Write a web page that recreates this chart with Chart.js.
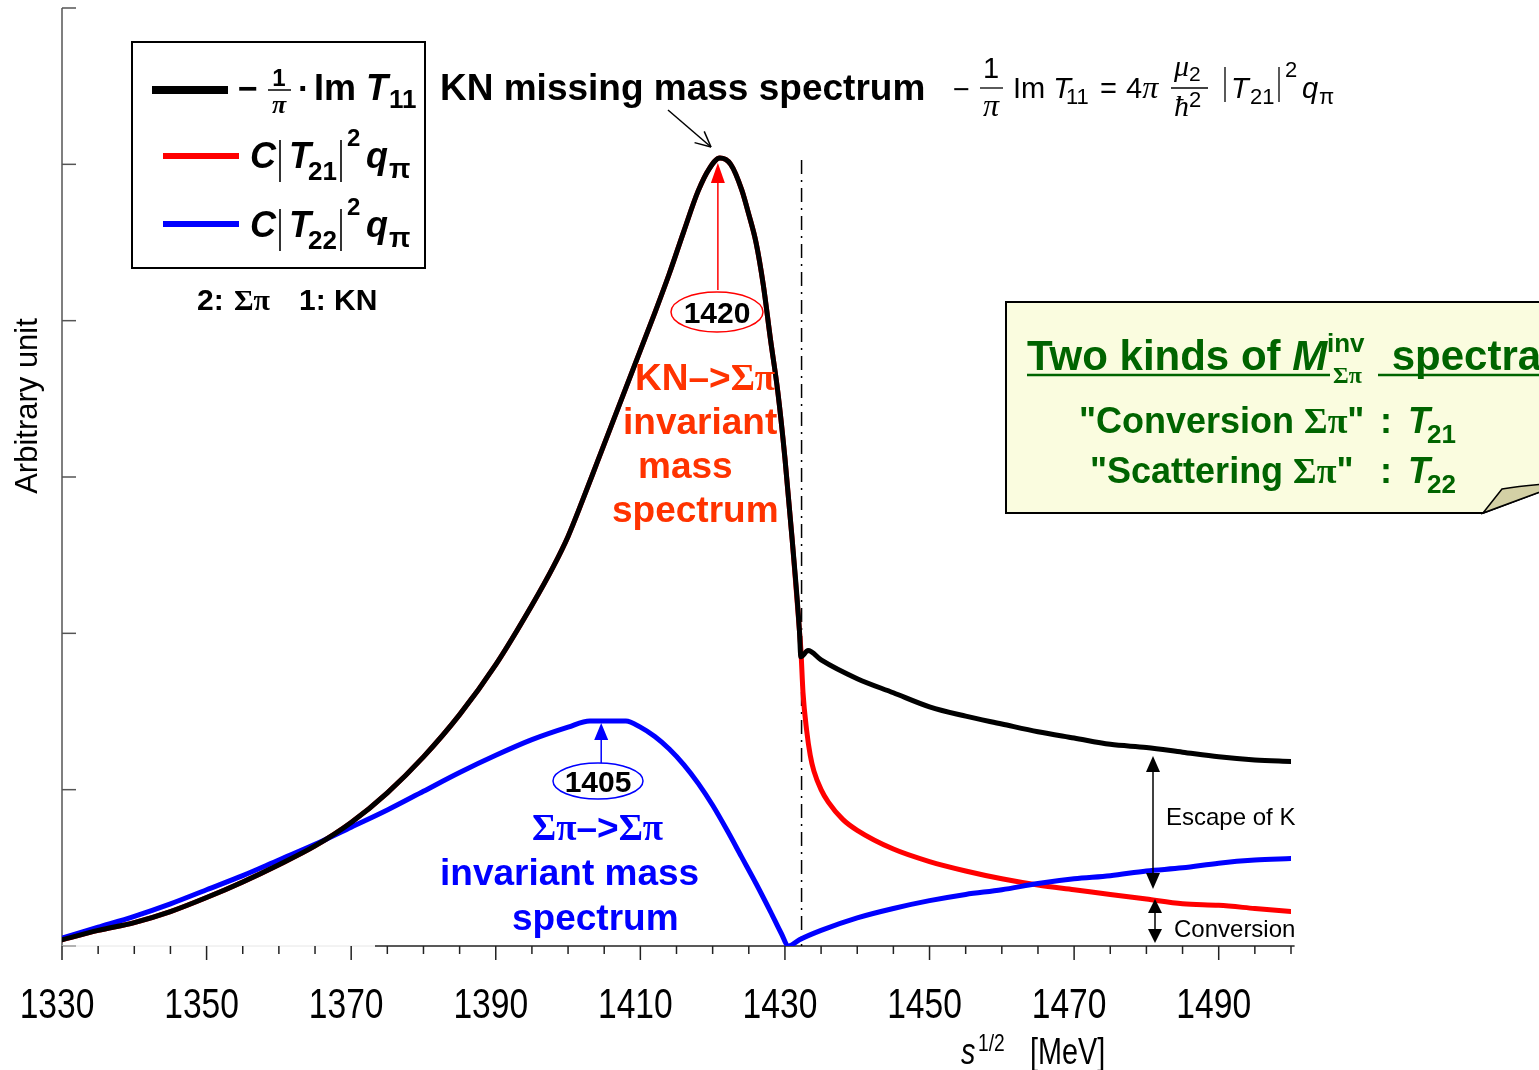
<!DOCTYPE html>
<html>
<head>
<meta charset="utf-8">
<script src="https://cdn.jsdelivr.net/npm/chart.js@4.4.1/dist/chart.umd.min.js"></script>
<style>
  html, body { margin: 0; padding: 0; background: #fff; overflow: hidden; }
  canvas { display: block; }
</style>
</head>
<body>
<canvas id="chart" width="1539" height="1070"></canvas>
<script>
// -1/pi Im T11  (KN missing mass)
const blackE = [1330, 1335, 1340, 1345, 1350, 1355, 1360, 1365, 1370, 1375, 1380, 1385, 1390, 1395,
  1398, 1400, 1402, 1404, 1406, 1408, 1410, 1412, 1414, 1416, 1418, 1419.5, 1421, 1422.5, 1424, 1425,
  1426, 1427, 1428, 1429, 1430, 1431, 1432, 1432.2, 1433.2, 1435, 1440, 1445, 1450, 1455,
  1460, 1465, 1470, 1475, 1480, 1485, 1490, 1495, 1500];
const blackV = [0.04, 0.10, 0.15, 0.22, 0.31, 0.41, 0.52, 0.64, 0.79, 0.98, 1.21, 1.48, 1.80, 2.18,
  2.43, 2.62, 2.85, 3.09, 3.33, 3.57, 3.81, 4.05, 4.30, 4.57, 4.83, 4.97, 5.04, 5.00, 4.84, 4.68,
  4.50, 4.23, 3.88, 3.55, 3.12, 2.60, 2.02, 1.85, 1.89, 1.83, 1.71, 1.62, 1.53, 1.47,
  1.42, 1.37, 1.33, 1.29, 1.27, 1.24, 1.21, 1.19, 1.18];

// C|T21|^2 q_pi  (conversion)
const redE = [1330, 1335, 1340, 1345, 1350, 1355, 1360, 1365, 1370, 1375, 1380, 1385, 1390, 1395,
  1398, 1400, 1402, 1404, 1406, 1408, 1410, 1412, 1414, 1416, 1418, 1419.5, 1421, 1422.5, 1424, 1425,
  1426, 1427, 1428, 1429, 1430, 1431, 1432, 1432.2, 1432.5, 1433, 1433.5, 1434, 1435, 1436,
  1438, 1440, 1445, 1450, 1455, 1460, 1465, 1470, 1475, 1480, 1485, 1490, 1495, 1500];
const redV = [0.04, 0.10, 0.15, 0.22, 0.31, 0.41, 0.52, 0.64, 0.79, 0.98, 1.21, 1.48, 1.80, 2.18,
  2.43, 2.62, 2.85, 3.09, 3.33, 3.57, 3.81, 4.05, 4.30, 4.57, 4.83, 4.97, 5.04, 5.00, 4.84, 4.68,
  4.50, 4.23, 3.88, 3.55, 3.12, 2.60, 2.02, 1.90, 1.62, 1.38, 1.22, 1.12, 1.00, 0.92,
  0.81, 0.74, 0.62, 0.54, 0.48, 0.43, 0.39, 0.36, 0.33, 0.30, 0.27, 0.26, 0.24, 0.22];

// C|T22|^2 q_pi  (scattering)
const blueE = [1330, 1335, 1340, 1345, 1350, 1355, 1360, 1365, 1370, 1375, 1380, 1385, 1390, 1395,
  1400, 1403, 1405, 1408, 1410, 1412, 1414, 1416, 1418, 1420, 1422, 1424, 1426, 1428, 1429.5,
  1430.5, 1432, 1435, 1440, 1445, 1450, 1455, 1460, 1465, 1470, 1475, 1480, 1485, 1490, 1495, 1500];
const blueV = [0.05, 0.12, 0.19, 0.27, 0.36, 0.45, 0.55, 0.65, 0.76, 0.87, 0.99, 1.11, 1.22, 1.32,
  1.40, 1.44, 1.44, 1.44, 1.40, 1.34, 1.26, 1.16, 1.04, 0.90, 0.74, 0.57, 0.40, 0.22, 0.08,
  0.00, 0.04, 0.10, 0.18, 0.24, 0.29, 0.33, 0.36, 0.40, 0.43, 0.45, 0.48, 0.50, 0.53, 0.55, 0.56];

const xLabels = [1330, 1350, 1370, 1390, 1410, 1430, 1450, 1470, 1490];
const yTicks = [0, 1, 2, 3, 4, 5, 6];
const threshold = 1432.3;
const peakKN = 1421;   // "1420" marker
const peakPi = 1405;   // "1405" marker

const SANS = "'Liberation Sans', Arial, sans-serif";
const SERIF = "'Liberation Serif', 'Times New Roman', serif";

function pts(xs, ys) { return xs.map((x, i) => ({ x, y: ys[i] })); }

function run(ctx, x, y, parts) {
  for (const p of parts) {
    ctx.font = p.f;
    ctx.fillStyle = p.c || '#000';
    ctx.fillText(p.t, x, y + (p.dy || 0));
    x += ctx.measureText(p.t).width + (p.gap || 0);
  }
  return x;
}
// condensed text: plain sans squeezed horizontally
function narrow(ctx, s, x, y, font, align) {
  ctx.save();
  ctx.translate(x, y);
  ctx.scale(0.8, 1);
  ctx.font = font;
  ctx.textAlign = align || 'left';
  ctx.fillStyle = '#000';
  ctx.fillText(s, 0, 0);
  ctx.restore();
}
function line(ctx, x1, y1, x2, y2, w, c) {
  ctx.beginPath(); ctx.moveTo(x1, y1); ctx.lineTo(x2, y2);
  ctx.lineWidth = w; ctx.strokeStyle = c; ctx.stroke();
}
function head(ctx, tx, ty, dx, dy, len, half, c) {
  const bx = tx - dx * len, by = ty - dy * len;
  ctx.beginPath();
  ctx.moveTo(tx, ty);
  ctx.lineTo(bx - dy * half, by + dx * half);
  ctx.lineTo(bx + dy * half, by - dx * half);
  ctx.closePath();
  ctx.fillStyle = c; ctx.fill();
}
function bar(ctx, x, y1, y2) { line(ctx, x, y1, x, y2, 1.6, '#000'); }

const axesPlugin = {
  id: 'axes',
  beforeDatasetsDraw(chart) {
    const { ctx, scales: { x, y }, chartArea: a } = chart;
    ctx.save();
    // y axis + inward ticks
    line(ctx, a.left, a.top, a.left, a.bottom, 1.5, '#555');
    yTicks.forEach(v => line(ctx, a.left, y.getPixelForValue(v), a.left + 14, y.getPixelForValue(v), 1.5, '#555'));
    // x axis (left part faint)
    line(ctx, a.left, a.bottom, 375, a.bottom, 1, '#e6e6e6');
    line(ctx, 375, a.bottom, x.getPixelForValue(1500.5), a.bottom, 1.5, '#222');
    for (let v = 1330; v <= 1500; v += 5) {
      const px = x.getPixelForValue(v);
      const major = (v - 1330) % 20 === 0;
      line(ctx, px, a.bottom, px, a.bottom + (major ? 14 : 8), 1.5, '#222');
    }
    xLabels.forEach(v => narrow(ctx, String(v), x.getPixelForValue(v) - 5, 1018, '42px ' + SANS, 'center'));
    // threshold dash-dot
    const tx = x.getPixelForValue(threshold);
    ctx.setLineDash([14, 6, 2, 6]);
    line(ctx, tx, 160, tx, a.bottom, 1.5, '#000');
    ctx.setLineDash([]);
    ctx.restore();
  },
  afterDatasetsDraw(chart) {
    const { ctx, scales: { x } } = chart;
    ctx.save();
    ctx.textAlign = 'left';
    ctx.textBaseline = 'alphabetic';

    // axis titles
    ctx.save();
    ctx.translate(27, 406); ctx.rotate(-Math.PI / 2);
    ctx.textAlign = 'center'; ctx.font = '31px ' + SANS; ctx.fillStyle = '#000';
    ctx.fillText('Arbitrary unit', 0, 10);
    ctx.restore();
    narrow(ctx, 's', 961, 1064, 'italic 36px ' + SANS);
    narrow(ctx, '1/2', 978, 1051, '24px ' + SANS);
    narrow(ctx, '[MeV]', 1030, 1064, '36px ' + SANS);

    // legend box
    ctx.fillStyle = '#fff';
    ctx.fillRect(132, 42, 293, 226);
    ctx.lineWidth = 2; ctx.strokeStyle = '#000';
    ctx.strokeRect(132, 42, 293, 226);
    line(ctx, 152, 90, 228, 90, 8, '#000');
    line(ctx, 163, 156, 239, 156, 6, '#ff0000');
    line(ctx, 163, 224, 239, 224, 6, '#0000ff');
    run(ctx, 238, 100, [{ t: '\u2212', f: 'bold 34px ' + SANS }]);
    ctx.textAlign = 'center';
    run(ctx, 279, 86, [{ t: '1', f: 'bold 24px ' + SANS }]);
    line(ctx, 268, 90, 291, 90, 1.5, '#000');
    run(ctx, 279, 113, [{ t: '\u03c0', f: 'italic bold 26px ' + SERIF }]);
    ctx.textAlign = 'left';
    run(ctx, 298, 100, [{ t: '\u00b7', f: 'bold 34px ' + SANS }]);
    run(ctx, 314, 100, [{ t: 'Im ', f: 'bold 36px ' + SANS }, { t: 'T', f: 'italic bold 36px ' + SANS }]);
    run(ctx, 389, 108, [{ t: '11', f: 'bold 26px ' + SANS }]);
    [[168, '21'], [237, '22']].forEach(([b, s]) => {
      run(ctx, 250, b, [{ t: 'C', f: 'italic bold 36px ' + SANS }]);
      bar(ctx, 280, b - 28, b + 14);
      run(ctx, 289, b, [{ t: 'T', f: 'italic bold 36px ' + SANS }]);
      run(ctx, 308, b + 12, [{ t: s, f: 'bold 26px ' + SANS }]);
      bar(ctx, 341, b - 28, b + 14);
      run(ctx, 347, b - 22, [{ t: '2', f: 'bold 24px ' + SANS }]);
      run(ctx, 366, b, [{ t: 'q', f: 'italic bold 36px ' + SANS }]);
      run(ctx, 389, b + 10, [{ t: '\u03c0', f: 'bold 28px ' + SANS }]);
    });
    run(ctx, 197, 310, [{ t: '2:', f: 'bold 30px ' + SANS }]);
    run(ctx, 234, 310, [{ t: '\u03a3\u03c0', f: 'bold 30px ' + SERIF }]);
    run(ctx, 299, 310, [{ t: '1: KN', f: 'bold 30px ' + SANS }]);

    // KN missing mass title + pointer
    run(ctx, 440, 100, [{ t: 'KN missing mass spectrum', f: 'bold 37px ' + SANS }]);
    line(ctx, 668, 110, 711, 147, 1.5, '#000');
    const ang = Math.atan2(37, 43);
    [0.45, -0.45].forEach(d => line(ctx, 711, 147, 711 - 17 * Math.cos(ang + d), 147 - 17 * Math.sin(ang + d), 1.5, '#000'));

    // formula
    run(ctx, 953, 99, [{ t: '\u2212', f: '29px ' + SANS }]);
    ctx.textAlign = 'center';
    run(ctx, 991, 78, [{ t: '1', f: '29px ' + SANS }]);
    line(ctx, 980, 88, 1003, 88, 1.3, '#000');
    run(ctx, 991, 116, [{ t: '\u03c0', f: 'italic 32px ' + SERIF }]);
    ctx.textAlign = 'left';
    run(ctx, 1013, 98, [{ t: 'Im ', f: '29px ' + SANS }, { t: 'T', f: 'italic 29px ' + SANS }]);
    run(ctx, 1066, 104, [{ t: '11', f: '22px ' + SANS }]);
    run(ctx, 1100, 98, [{ t: '=', f: '29px ' + SANS }]);
    run(ctx, 1126, 98, [{ t: '4', f: '29px ' + SANS }, { t: '\u03c0', f: 'italic 32px ' + SERIF }]);
    run(ctx, 1174, 76, [{ t: '\u03bc', f: 'italic 30px ' + SERIF }, { t: '2', f: '21px ' + SANS, dy: 5 }]);
    line(ctx, 1171, 88, 1208, 88, 1.3, '#000');
    run(ctx, 1174, 116, [{ t: '\u0127', f: 'italic 30px ' + SERIF }, { t: '2', f: '22px ' + SANS, dy: -9 }]);
    line(ctx, 1225, 67, 1225, 102, 1.3, '#000');
    run(ctx, 1231, 98, [{ t: 'T', f: 'italic 29px ' + SANS }]);
    run(ctx, 1250, 104, [{ t: '21', f: '22px ' + SANS }]);
    line(ctx, 1279, 67, 1279, 102, 1.3, '#000');
    run(ctx, 1285, 77, [{ t: '2', f: '22px ' + SANS }]);
    run(ctx, 1302, 98, [{ t: 'q', f: 'italic 29px ' + SANS }]);
    run(ctx, 1319, 104, [{ t: '\u03c0', f: '22px ' + SANS }]);

    // 1420 marker
    const rx = x.getPixelForValue(peakKN) - 2;
    line(ctx, rx, 290, rx, 180, 1.5, '#ff0000');
    head(ctx, rx, 163, 0, -1, 20, 7, '#ff0000');
    ctx.beginPath(); ctx.ellipse(717, 312, 46, 20, 0, 0, Math.PI * 2);
    ctx.fillStyle = '#fff'; ctx.fill();
    ctx.lineWidth = 1.5; ctx.strokeStyle = '#ff0000'; ctx.stroke();
    ctx.textAlign = 'center';
    run(ctx, 717, 323, [{ t: '1420', f: 'bold 30px ' + SANS }]);
    ctx.textAlign = 'left';
    const OR = '#ff3300';
    run(ctx, 635, 390, [{ t: 'KN', f: 'bold 37px ' + SANS, c: OR }, { t: '\u2013>', f: 'bold 37px ' + SANS, c: OR },
      { t: '\u03a3\u03c0', f: 'bold 37px ' + SERIF, c: OR }]);
    run(ctx, 623, 434, [{ t: 'invariant', f: 'bold 37px ' + SANS, c: OR }]);
    run(ctx, 638, 478, [{ t: 'mass', f: 'bold 37px ' + SANS, c: OR }]);
    run(ctx, 612, 522, [{ t: 'spectrum', f: 'bold 37px ' + SANS, c: OR }]);

    // 1405 marker
    const bx = x.getPixelForValue(peakPi) - 3;
    line(ctx, bx, 763, bx, 738, 1.5, '#0000ff');
    head(ctx, bx, 723, 0, -1, 17, 7, '#0000ff');
    ctx.beginPath(); ctx.ellipse(598, 781, 45, 18, 0, 0, Math.PI * 2);
    ctx.fillStyle = '#fff'; ctx.fill();
    ctx.lineWidth = 1.5; ctx.strokeStyle = '#0000ff'; ctx.stroke();
    ctx.textAlign = 'center';
    run(ctx, 598, 792, [{ t: '1405', f: 'bold 30px ' + SANS }]);
    ctx.textAlign = 'left';
    const BL = '#0000ff';
    run(ctx, 532, 840, [{ t: '\u03a3\u03c0', f: 'bold 37px ' + SERIF, c: BL }, { t: '\u2013>', f: 'bold 37px ' + SANS, c: BL },
      { t: '\u03a3\u03c0', f: 'bold 37px ' + SERIF, c: BL }]);
    run(ctx, 440, 885, [{ t: 'invariant mass', f: 'bold 37px ' + SANS, c: BL }]);
    run(ctx, 512, 930, [{ t: 'spectrum', f: 'bold 37px ' + SANS, c: BL }]);

    // escape / conversion arrows
    line(ctx, 1153, 770, 1153, 875, 1.5, '#000');
    head(ctx, 1153, 756, 0, -1, 16, 7, '#000');
    head(ctx, 1153, 889, 0, 1, 16, 7, '#000');
    run(ctx, 1166, 825, [{ t: 'Escape of K', f: '24px ' + SANS }]);
    line(ctx, 1155, 910, 1155, 932, 1.5, '#000');
    head(ctx, 1155, 899, 0, -1, 14, 7, '#000');
    head(ctx, 1155, 943, 0, 1, 14, 7, '#000');
    run(ctx, 1174, 937, [{ t: 'Conversion', f: '24px ' + SANS }]);

    // callout box
    ctx.beginPath();
    ctx.moveTo(1006, 302); ctx.lineTo(1545, 302); ctx.lineTo(1545, 490);
    ctx.lineTo(1483, 513); ctx.lineTo(1006, 513); ctx.closePath();
    ctx.fillStyle = '#fafcdf'; ctx.fill();
    ctx.lineWidth = 2; ctx.strokeStyle = '#000'; ctx.stroke();
    ctx.beginPath();
    ctx.moveTo(1483, 513); ctx.lineTo(1502, 489); ctx.quadraticCurveTo(1520, 486, 1545, 484);
    ctx.lineTo(1545, 490); ctx.closePath();
    ctx.fillStyle = '#d3d0a5'; ctx.fill();
    ctx.lineWidth = 1.5; ctx.stroke();
    const GR = '#006400';
    run(ctx, 1027, 370, [{ t: 'Two kinds of ', f: 'bold 42px ' + SANS, c: GR }, { t: 'M', f: 'italic bold 42px ' + SANS, c: GR }]);
    run(ctx, 1327, 352, [{ t: 'inv', f: 'bold 26px ' + SANS, c: GR }]);
    run(ctx, 1333, 383, [{ t: '\u03a3\u03c0', f: 'bold 24px ' + SERIF, c: GR }]);
    run(ctx, 1380, 370, [{ t: ' spectra', f: 'bold 42px ' + SANS, c: GR }]);
    line(ctx, 1027, 375, 1330, 375, 2.5, GR);
    line(ctx, 1378, 375, 1545, 375, 2.5, GR);
    run(ctx, 1079, 433, [{ t: '"Conversion ', f: 'bold 36px ' + SANS, c: GR }, { t: '\u03a3\u03c0', f: 'bold 36px ' + SERIF, c: GR },
      { t: '"', f: 'bold 36px ' + SANS, c: GR }]);
    run(ctx, 1090, 483, [{ t: '"Scattering ', f: 'bold 36px ' + SANS, c: GR }, { t: '\u03a3\u03c0', f: 'bold 36px ' + SERIF, c: GR },
      { t: '"', f: 'bold 36px ' + SANS, c: GR }]);
    [[433, '21'], [483, '22']].forEach(([b, s]) => {
      run(ctx, 1380, b, [{ t: ':', f: 'bold 36px ' + SANS, c: GR }]);
      run(ctx, 1408, b, [{ t: 'T', f: 'italic bold 36px ' + SANS, c: GR }]);
      run(ctx, 1427, b + 10, [{ t: s, f: 'bold 26px ' + SANS, c: GR }]);
    });
    ctx.restore();
  }
};

const lineStyle = { pointRadius: 0, borderWidth: 5, fill: false, cubicInterpolationMode: 'monotone',
  borderJoinStyle: 'round', borderCapStyle: 'round' };

new Chart(document.getElementById('chart').getContext('2d'), {
  type: 'line',
  data: {
    datasets: [
      Object.assign({ label: '-1/pi Im T11', data: pts(blackE, blackV), borderColor: '#000000' }, lineStyle),
      Object.assign({ label: 'C|T22|^2 q', data: pts(blueE, blueV), borderColor: '#0000ff' }, lineStyle),
      Object.assign({ label: 'C|T21|^2 q', data: pts(redE, redV), borderColor: '#ff0000' }, lineStyle)
    ]
  },
  options: {
    responsive: false,
    animation: false,
    devicePixelRatio: 1,
    layout: { padding: { left: 62, right: 248, top: 8, bottom: 124 } },
    plugins: { legend: { display: false }, tooltip: { enabled: false } },
    scales: {
      x: { type: 'linear', min: 1330, max: 1500, display: false },
      y: { type: 'linear', min: 0, max: 6, display: false }
    }
  },
  plugins: [axesPlugin]
});
</script>
</body>
</html>
